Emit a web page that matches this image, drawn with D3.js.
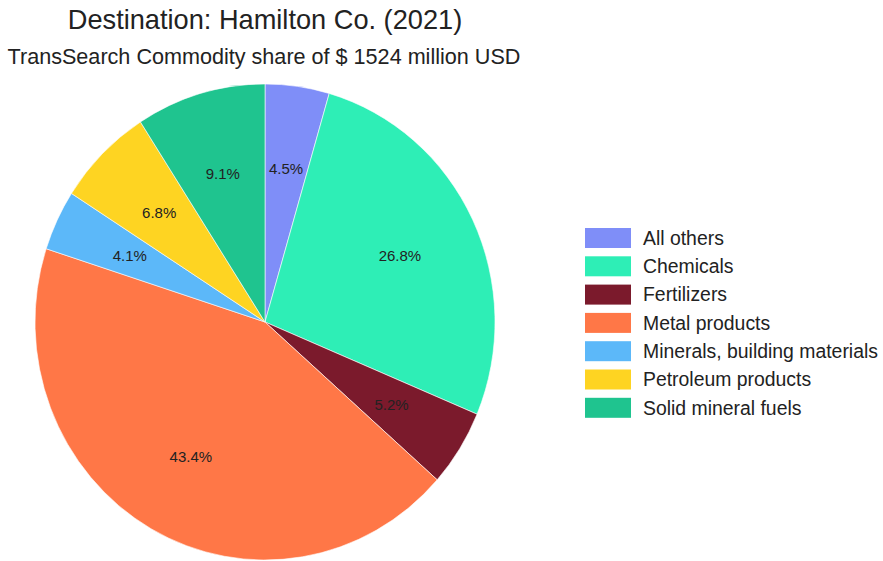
<!DOCTYPE html>
<html>
<head>
<meta charset="utf-8">
<script src="https://cdn.jsdelivr.net/npm/d3@7"></script>
<style>
  body { margin: 0; background: #fff; }
  text { font-family: "Liberation Sans", Arial, sans-serif; }
</style>
</head>
<body>
<svg width="883" height="561"></svg>
<script>
// chart data
var categories = ["All others", "Chemicals", "Fertilizers", "Metal products",
                  "Minerals, building materials", "Petroleum products", "Solid mineral fuels"];
var shares = [4.5, 26.8, 5.2, 43.4, 4.1, 6.8, 9.1];
var colors = ["#7f8ef8", "#2eeeb6", "#7b1a2c", "#ff7747", "#5cb8f9", "#fed422", "#1fc48f"];

var title = "Destination: Hamilton Co. (2021)";
var subtitle = "TransSearch Commodity share of $ 1524 million USD";

var svg = d3.select("svg");
var cx = 265, cy = 322, radius = 238, squash = 230 / 238;

svg.append("text")
    .attr("x", 265).attr("y", 29)
    .attr("text-anchor", "middle")
    .attr("font-size", 27.2)
    .attr("fill", "#222")
    .text(title);

svg.append("text")
    .attr("x", 264).attr("y", 64)
    .attr("text-anchor", "middle")
    .attr("font-size", 21.6)
    .attr("fill", "#222")
    .text(subtitle);

var pie = d3.pie().sort(null).value(function(d) { return d; });
var arcs = pie(shares);
var arc = d3.arc().innerRadius(0).outerRadius(radius);
var labelArc = d3.arc().innerRadius(radius * 0.65).outerRadius(radius * 0.65);

var g = svg.append("g").attr("transform", "translate(" + cx + "," + cy + ")");

// the original pie is a little narrower than tall
g.append("g").attr("transform", "scale(" + squash + ",1)")
  .selectAll("path").data(arcs).enter().append("path")
    .attr("d", arc)
    .attr("fill", function(d, i) { return colors[i]; })
    .attr("stroke", "#fff")
    .attr("stroke-width", 0.6);

g.selectAll("text.lbl").data(arcs).enter().append("text")
    .attr("class", "lbl")
    .attr("transform", function(d) {
        var c = labelArc.centroid(d);
        return "translate(" + (c[0] * squash) + "," + c[1] + ")";
    })
    .attr("text-anchor", "middle")
    .attr("dy", "0.35em")
    .attr("font-size", 15)
    .attr("fill", "#222")
    .text(function(d) { return d.data.toFixed(1) + "%"; });

var legend = svg.append("g").attr("transform", "translate(585,228)");
var rows = legend.selectAll("g").data(categories).enter().append("g")
    .attr("transform", function(d, i) { return "translate(0," + (i * 28.3) + ")"; });

rows.append("rect")
    .attr("width", 46).attr("height", 20)
    .attr("fill", function(d, i) { return colors[i]; });

rows.append("text")
    .attr("x", 58).attr("y", 10)
    .attr("dy", "0.35em")
    .attr("font-size", 19.4)
    .attr("fill", "#222")
    .text(function(d) { return d; });
</script>
</body>
</html>
